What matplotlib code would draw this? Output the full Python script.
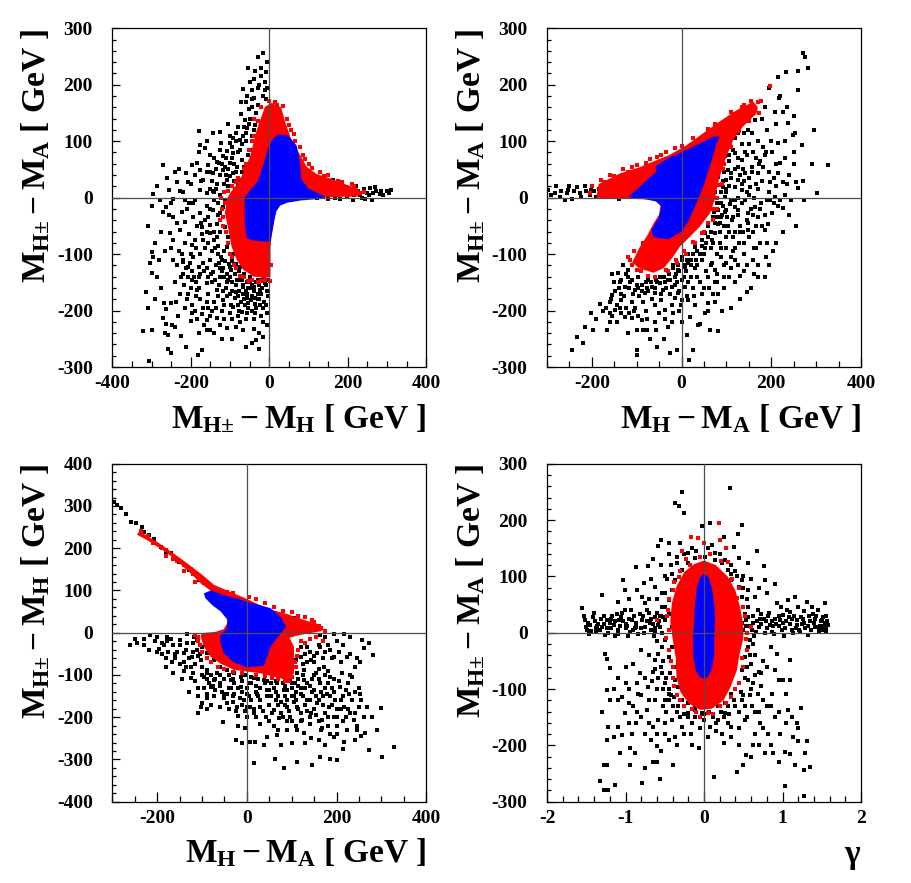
import numpy as np
import matplotlib
matplotlib.use("Agg")
import matplotlib.pyplot as plt
from matplotlib.ticker import MultipleLocator

plt.rcParams['font.family'] = ['Liberation Serif', 'DejaVu Serif']
plt.rcParams['font.weight'] = 'bold'
plt.rcParams['axes.unicode_minus'] = False
plt.rcParams['mathtext.fontset'] = 'custom'
plt.rcParams['mathtext.rm'] = 'Liberation Serif:bold'
plt.rcParams['mathtext.it'] = 'Liberation Serif:bold'
plt.rcParams['mathtext.bf'] = 'Liberation Serif:bold'

# ---------------- panel 1 : (M_H+ - M_H , M_H+ - M_A) ----------------
p1_blue = [(23,112),(48,110),(70,92),(78,62),(82,32),(100,16),(130,6),(142,3),(130,-2),(80,-5),
           (45,-9),(28,-14),(18,-24),(13,-40),(8,-60),(3,-78),(-10,-78),(-40,-76),(-57,-72),
           (-62,-50),(-63,-25),(-63,0),(-50,12),(-30,28),(-15,58),(-3,88),(10,105)]
p1_red = [(6,168),(30,160),(40,135),(55,105),(75,80),(95,55),(120,42),(160,33),(200,22),(230,15),
          (225,2),(150,1),(100,0),(60,-2),(30,-8),(18,-20),(12,-40),(6,-65),(3,-90),(3,-140),
          (-10,-142),(-40,-140),(-66,-128),(-83,-110),(-96,-87),(-104,-57),(-113,-28),(-109,-4),
          (-100,8),(-75,31),(-49,73),(-32,120),(-11,161)]
p1_red_pts = [(20,165),(35,162),(45,140),(12,150),(-5,150),(-20,130),(55,120),(65,100),(85,75),
              (100,60),(130,45),(150,40),(175,30),(210,25),(190,12),(240,10),(170,5),(120,8),
              (-60,60),(-80,35),(-95,20),(-115,10),(-120,-20),(-118,-50),(-100,-100),(-90,-120),
              (-75,-138),(-55,-148),(-30,-150),(-10,-145),(-45,100),(-38,140),(-20,160),(100,30),(60,40),
              (-2,172),(15,170),(28,150),(50,128),(62,112),(78,90),(90,68),(108,52),(140,38),(185,28),
              (215,20),(232,8),(200,5),(135,3),(-28,135),(-40,110),(-52,85),(-65,50),(-85,28),(-105,12),
              (-112,-10),(-117,-35),(-110,-60),(-105,-80),(-95,-105),(-85,-125),(-65,-140),(-45,-145),
              (-20,-148),(2,-148),(5,-120),(-122,0),(-125,-40)]
p1_black = [(-15,256),(-28,249),(-9,223),(-53,229),(-36,225),(-6,194),(-68,192),(-40,177),(-71,170),
            (-52,157),(-72,149),(-61,138),(-36,129),(-57,123),(-179,118),(-177,93),(-165,88),(-143,114),
            (-126,117),(-104,131),(-124,96),(-100,96),(-92,79),(-75,102),(-75,85),
            (-271,57),(-296,7),(-279,-5),(-255,14),(-245,-3),(-236,28),(-228,11),(-211,43),(-207,28),
            (-198,57),(-185,61),(-177,49),(-168,31),(-155,58),(-143,43),(-134,64),(-134,25),(-117,73),
            (-117,49),(-109,31),(-100,61),(-92,43),(-83,55),(-75,31),(-70,67),(-62,43),(-58,20),
            (-177,14),(-160,8),(-143,11),(-126,5),(-113,-4),(-215,-4),(-194,-10),(-262,-16),
            (-300,-96),(-304,-116),(-296,-105),(-298,-134),(-315,-168),(-308,-196),(-323,-236),(-300,-235),
            (-306,-289),(-269,-187),(-264,-198),(-251,-186),(-270,-214),(-264,-224),(-259,-243),(-259,-268),
            (-251,-276),(-249,-226),(-232,-210),(-212,-264),(-200,-218),(-182,-278),(-171,-270),(-160,-235),
            (-151,-235),(-158,-216),(-172,-206),(-132,-214),(-108,-231),(-67,-234),(-39,-233),(-45,-257),
            (-34,-253),(-26,-268),(-15,-246),(-6,-205),(-9,-190),
            (-253,-63),(-245,-75),(-251,-90),(-228,-57),(-223,-99),(-219,-114),(-206,-123),(-198,-84),
            (-195,-105),(-193,-140),(-185,-164),(-180,-122),(-177,-99),(-168,-75),(-160,-152),(-155,-170),
            (-151,-63),(-143,-131),(-139,-90),(-134,-164),(-126,-140),(-121,-110),(-117,-181),(-109,-87),
            (-109,-149),(-100,-122),(-100,-170),(-92,-99),(-92,-193),(-83,-146),(-79,-175),(-75,-122),
            (-70,-202),(-66,-158),(-57,-170),(-53,-187),(-49,-140),(-40,-158),(-36,-178),(-28,-146),
            (-24,-164),(-15,-134),(-11,-152),(-6,-122),
            (-245,-34),(-223,-25),(-215,-43),(-194,-34),(-177,-28),(-172,-52),(-155,-34),(-143,-22),
            (-134,-46),(-126,-28),(-117,-16),(-134,-69),(-113,-52),
            (129,28),(146,20),(163,32),(171,8),(188,20),(205,8),(214,-4),(235,-1),(248,8),(256,17),
            (261,-4),(273,11),(282,6),(299,11),(311,14),(227,11),(197,2),(180,14),(155,11),(138,2),
            (121,-1),(108,14),(167,-1),(218,14),
            (-130,-10),(-125,-60),(-140,-75),(-115,-95),(-105,-70),(-130,-100),(-120,-130),(-100,-140),
            (-85,-155),(-70,-145),(-60,-165),(-45,-175),(-30,-180),(-20,-170),(-5,-165),(-10,-135),
            (-25,-155),(-50,-160),(-65,-180),(-80,-190),(-95,-165),(-110,-160),(-150,-110),(-165,-90),
            (-180,-140),(-200,-160),(-210,-180),(-170,-195),(-140,-185),(-120,-200),(-150,-210),
            (-185,-215),(-160,-60),(-175,-45),(-190,-75),(-235,-120),(-240,-150),(-220,-135),(-200,-100),
            (-110,40),(-95,70),(-85,100),(-60,115),(-125,85),(-150,75),(-160,100),(-180,80),(-200,25),
            (-230,50),(-140,10),(-160,-15),(-25,200),(-15,180),(-45,190),(-30,165),(-8,175),
            (110,25),(130,18),(150,12),(170,25),(195,18),(215,5),(240,15),(265,8),(285,12),(150,-2),(180,-3),
            (-95,5),(-88,15),(-80,22),(-70,45),(-65,55),(-55,75),(-50,85),(-45,110),(-40,120),(-35,150),
            (-50,140),(-65,125),(-85,115),(-90,60),(-105,50),(-115,25),(-125,40),(-135,50),(-110,70),
            (-95,90),(-80,80),(-70,95),(-60,100),(-100,110),(-55,60),(-85,45),(-120,60),(-145,30),
            (-150,45),(-130,-30),(-135,15),(-105,20),(-60,170),(-45,160),(-30,195),(-20,215),(-12,205),
            (-5,240),(-48,205),(-58,180),
            (-128,-115),(-118,-125),(-108,-135),(-97,-128),(-88,-135),(-78,-130),(-68,-155),(-58,-150),
            (-48,-150),(-38,-165),(-28,-170),(-18,-160),(-8,-155),(-3,-145),(-13,-185),(-23,-190),
            (-33,-195),(-43,-200),(-53,-195),(-63,-190),(-73,-185),(-88,-178),(-98,-190),(-108,-175),
            (-118,-165),(-128,-155),(-138,-145),(-148,-135),(-158,-125),(-168,-115),(-178,-160),
            (-188,-175),(-198,-190),(-208,-140),(-218,-155),(-228,-170),(-238,-185),(-190,-200),
            (-160,-185),(-130,-175),(-100,-205),(-80,-210),(-60,-215),(-40,-215),(-20,-210),(-5,-225),
            (-75,-220),(-115,-215),(-145,-200),(-230,-95),(-215,-80),(-205,-65),(-185,-50),(-165,-40),
            (-150,-20),(-190,-5),(-210,-20),(-235,-45),(-255,-30),(-275,-60),(-285,-140),(-280,-110),
            (-275,-160),(-290,-180),(-265,-240),(-240,-230),(-225,-245),(-180,-240),(-140,-240),
            (-120,-250),(-95,-250),(-60,-265),(-25,-240),
            (-260,35),(-240,45),(-220,10),(-205,-10),(-190,40),(-175,30),(-160,45),(-150,15),(-140,-5),
            (-250,-10),(-270,-25),(-285,20),(-300,-15),(-310,-50),(-290,-80),(-265,-95),(-245,-110),
            (-225,-140),
            (100,18),(115,28),(125,10),(140,25),(160,18),(175,12),(185,8),(200,12),(220,20),(230,5),
            (245,-2),(255,5),(270,18),(290,5),(305,8),(95,30),(90,40),(120,35),
            (-122,-105),(-112,-112),(-102,-118),(-94,-112),(-84,-118),(-74,-145),(-64,-135),(-54,-160),
            (-44,-155),(-34,-150),(-24,-145),(-14,-142),(-4,-175),(-16,-195),(-26,-180),(-36,-188),
            (-46,-182),(-56,-178),(-66,-170),(-76,-165),(-86,-168),(-96,-150),(-106,-145),(-116,-140),
            (-126,-125),(-136,-120),(-146,-150),(-156,-140),(-166,-130),(-176,-135),(-186,-150),
            (-196,-145),(-206,-170),(-216,-195),(-196,-205),(-176,-180),(-156,-195),(-136,-195),
            (-116,-190),(-96,-215),(-76,-200),(-56,-205),(-36,-205),(-16,-220),(-86,-230),(-126,-225),
            (-166,-225),(-141,-60),(-151,-48),(-131,-85),(-146,-95),(-156,-80),(-171,-65),(-186,-90),
            (-201,-115),(-211,-125),(-221,-110),(-196,-130),(-90,30),(-100,38),(-112,55),(-128,62),
            (-140,70),(-108,82),(-92,105),(-80,125),(-66,110),(-52,130),(-45,175),(-38,210),(-22,230),
            (-12,190)]

# ---------------- panel 2 : (M_H - M_A , M_H+ - M_A) ----------------
p2_blue = [(-59,55),(-30,70),(-4,79),(33,93),(71,108),(85,108),(78,96),(63,55),(48,19),(33,-10),
           (15,-42),(0,-60),(-30,-74),(-63,-70),(-67,-57),(-52,-37),(-45,-16),(-56,-7),(-78,-3),
           (-108,-1),(-119,2),(-100,14),(-78,31),(-56,46)]
p2_red = [(-190,0),(-185,24),(-137,43),(-93,54),(-63,64),(-26,76),(11,93),(48,114),(85,135),(123,155),
          (160,170),(170,160),(167,149),(137,126),(115,102),(100,73),(85,37),(78,14),(74,-4),(63,-28),
          (41,-51),(19,-69),(-4,-87),(-19,-105),(-40,-125),(-63,-133),(-95,-125),(-110,-115),(-95,-90),
          (-75,-65),(-62,-45),(-50,-30),(-47,-14),(-58,-6),(-80,-3),(-120,-2),(-160,-1)]
p2_red_pts = [(197,197),(178,172),(170,170),(150,160),(140,165),(120,148),(100,130),(-200,20),(-170,28),
              (-150,38),(-120,45),(-100,58),(-70,68),(-45,75),(-15,88),(95,110),(110,90),(95,60),(90,25),
              (80,-20),(70,-40),(50,-60),(30,-80),(10,-100),(-10,-115),(-30,-130),(-60,-140),(-90,-130),
              (-110,-120),(-120,-105),
              (-205,8),(-180,32),(-160,40),(-130,50),(-110,55),(-80,62),(-55,72),(-35,80),(0,92),(25,105),
              (60,122),(75,130),(110,152),(135,160),(155,172),(172,150),(150,135),(128,118),(108,95),
              (98,80),(92,50),(84,22),(78,0),(70,-20),(58,-45),(45,-62),(25,-78),(5,-95),(-12,-110),
              (-35,-128),(-75,-138),(-100,-128),(-115,-110),(-105,-95),(-85,-80)]
p2_black = [(-297,14),(-282,9),(-260,-4),(-245,-3),(-234,19),(-227,8),(-212,11),(-201,14),(-190,1),
            (-178,2),(-167,19),(-156,11),(-149,2),(-134,19),(-130,8),(-268,11),(-253,14),
            (271,256),(275,249),(282,229),(260,224),(233,223),(215,213),(260,191),(217,176),(195,194),
            (186,161),(208,152),(227,152),(238,132),(253,115),(248,111),(295,119),(268,93),(327,58),
            (301,8),(273,-4),(245,-4),(256,28),(260,17),(227,28),(215,43),(219,61),(201,81),(189,81),
            (215,96),(182,90),(156,114),(149,120),(163,138),(167,70),(182,55),(197,28),(208,2),(197,-4),
            (227,-19),(201,-28),(178,-10),(163,-16),(171,-34),(149,-28),(126,-22),(141,-4),(134,14),
            (152,19),(126,31),(111,43),(141,43),(156,55),(134,67),(119,79),(141,81),(171,43),
            (204,-94),(189,-105),(162,-90),(161,-135),(146,-168),(130,-138),(119,-110),(111,-105),
            (130,-60),(149,-57),(167,-51),(186,-57),(193,-46),(89,-105),(67,-116),(59,-140),(74,-128),
            (82,-170),(110,-196),(74,-184),(59,-187),(52,-205),(41,-223),(37,-226),(63,-234),(82,-236),
            (19,-211),(11,-243),(17,-288),(-11,-269),(-54,-264),(-26,-275),(-100,-270),(-100,-279),
            (-245,-270),(-233,-247),(-219,-258),(-202,-205),(-197,-234),(-167,-234),(-181,-188),
            (-160,-184),(-156,-172),(-149,-199),(-145,-220),(-134,-205),(-134,-181),(-126,-211),
            (-111,-214),(-104,-196),(-100,-234),(-89,-217),(-85,-234),(-78,-234),(-59,-220),(-59,-190),
            (-45,-181),(-37,-199),(-22,-220),(-22,-190),(-15,-178),(-7,-169),(0,-181),(7,-158),(15,-181),
            (-141,-134),(-134,-146),(-126,-158),(-119,-128),(-111,-146),(-104,-164),(-97,-140),(-89,-155),
            (-82,-169),(-74,-146),(-67,-158),(-59,-169),(-48,-152),(-41,-164),(-30,-146),(-22,-158),
            (-15,-140),(-7,-128),(0,-110),(7,-122),(15,-99),(22,-110),(30,-87),(41,-99),(45,-75),(52,-63),
            (59,-51),(67,-75),(71,-34),(74,-63),(82,-46),(82,-22),(89,-10),(89,-34),(97,2),(100,-22),
            (104,-51),(111,-4),(115,-34),(119,-16),(59,25),(74,19),(82,37),(89,55),(97,73),(104,49),
            (111,90),(67,8),(93,19),(119,19),(100,31),
            (60,0),(70,30),(95,45),(105,65),(125,55),(140,30),(150,5),(160,-30),(130,-50),(115,-70),
            (100,-90),(85,-80),(65,-90),(45,-110),(30,-125),(20,-140),(0,-145),(-15,-155),(-35,-160),
            (-55,-150),(-75,-165),(-95,-175),(-115,-150),(-125,-135),(-135,-170),(-145,-190),(-160,-205),
            (-110,-185),(-80,-200),(-50,-205),(-5,-200),(25,-160),(40,-150),(55,-130),(75,-150),(95,-120),
            (105,-140),(120,-90),(140,-80),(160,-60),(175,-80),(185,-30),(205,-10),(230,5),(240,40),
            (250,60),(170,100),(190,120),(210,130),(230,100),(120,105),(135,95),(-50,-120),(-20,-125),(10,-130),
            (-280,20),(-270,2),(-255,8),(-240,12),(-225,2),(-215,20),(-205,5),(-195,12),(-185,15),
            (-175,10),(-165,5),(-155,22),(-145,12),(-140,-2),(-125,12),(-115,8),(-290,5),(-250,20),
            (75,10),(80,-10),(90,-30),(95,-50),(85,-60),(75,-45),(65,-60),(55,-80),(45,-85),(35,-95),
            (25,-100),(15,-115),(5,-120),(-5,-130),(-12,-135),(100,10),(108,-12),(112,-40),(118,-60),
            (125,-30),(135,-10),(145,-40),(105,20),(110,35),(120,50),(130,40),(90,85),(100,95),(110,115),
            (125,115),(140,115),(150,95),(145,75),(160,80),(175,65),(165,25),(180,30),(195,45),(210,20),
            (220,-5),(235,25),(150,-70),(165,-90),(140,-100),(125,-120),(110,-125),(95,-140),(80,-135),
            (65,-120),(50,-100),(35,-120),(15,-150),(-5,-165),(-25,-170),(-45,-170),(-65,-180),
            (-85,-185),(-105,-200),(-125,-195),(-140,-160),(-150,-150),(-155,-135),(-130,-120),
            (-120,-140),(-100,-155),(-80,-150),(-60,-160),(-40,-140),(-25,-145),(-10,-150),(5,-140),
            (35,-140),(50,-160),(70,-170),(95,-160),(120,-150),(140,-130),(170,-120),(185,-140),
            (60,-200),(30,-190),(0,-220),(-30,-230),(-70,-250),(-120,-240),(-160,-220),(-190,-215),
            (-215,-230),(-175,-200),(-155,-210),(-40,-250),(25,-270),(90,-200),(130,-180),(155,-160),
            (195,-120),(210,-80),(225,-60),(240,-30),(255,-50),(175,-20),(190,-5),(210,60),(230,70),
            (250,80),(270,30),(290,60),(200,100),(180,140),(235,160),(250,145),(220,180),
            (62,-15),(68,-5),(72,-25),(78,-35),(86,-45),(92,-15),(96,-25),(102,-35),(106,-60),(98,-70),
            (88,-90),(78,-100),(70,-80),(60,-70),(52,-90),(42,-100),(32,-110),(22,-120),(12,-110),
            (2,-105),(-8,-120),(-18,-120),(-28,-135),(-38,-150),(-48,-140),(-58,-145),(-68,-150),
            (-78,-160),(-88,-165),(-98,-160),(-108,-170),(-118,-160),(-128,-175),(-138,-150),
            (-148,-165),(-158,-180),(-168,-195),(-138,-195),(-118,-205),(-98,-210),(-78,-215),
            (-58,-235),(-38,-215),(-18,-205),(-2,-190),(12,-175),(28,-175),(45,-170),(62,-160),(80,-150),
            (98,-115),(115,-95),(128,-80),(138,-60),(148,-45),(155,-20),(162,0),(170,15),(150,35),
            (138,50),(125,70),(115,85),(105,75),(92,30),(98,15),(88,10),(125,0),(118,-5),(135,25),
            (145,10),(158,45),(172,60),(185,75),(195,10),(205,35),(215,-15),(180,-50),(190,-80),
            (160,-110),(145,-120),(170,-140)]

# ---------------- panel 3 : (M_H - M_A , M_H+ - M_H) ----------------
p3_blue = [(-96,93),(-80,100),(-51,89),(-22,81),(0,73),(30,65),(53,58),(75,38),(88,14),(70,-9),
           (53,-33),(45,-57),(38,-78),(0,-82),(-30,-70),(-52,-48),(-60,-17),(-58,-3),(-45,8),
           (-43,30),(-58,50),(-77,65),(-92,81)]
p3_red = [(-240,240),(-200,215),(-148,176),(-103,140),(-73,113),(-29,93),(0,80),(45,57),(90,44),
          (134,28),(160,20),(168,4),(120,-5),(95,-12),(105,-33),(105,-96),(90,-112),(60,-104),(30,-96),
          (0,-92),(-29,-88),(-59,-73),(-81,-57),(-96,-33),(-103,-9),(-100,-1),(-70,2),(-52,8),(-44,22),
          (-44,50),(-55,69),(-73,93),(-103,117),(-133,148),(-177,188),(-222,219),(-245,232)]
p3_red_pts = [(-235,240),(-210,212),(-190,200),(-165,175),(-140,160),(-120,140),(-90,118),(-60,100),
              (-30,95),(20,80),(60,60),(100,48),(130,36),(150,25),(160,15),(175,5),(140,-15),(170,-20),
              (115,-40),(110,-80),(100,-105),(95,-115),(70,-110),(40,-102),(-10,-95),(-50,-85),(-80,-70),
              (-100,-45),(-110,-20),(-115,-5),(120,-20),
              (-220,228),(-180,195),(-155,170),(-125,150),(-105,132),(-80,110),(-45,96),(5,85),(40,70),
              (80,52),(115,40),(145,30),(165,10),(155,-10),(130,-25),(112,-55),(108,-70),(85,-115),
              (55,-108),(20,-100),(-30,-92),(-65,-80),(-90,-60),(-105,-30),(-108,-10),(-180,182),
              (-140,145),(-115,120)]
p3_black = [(-296,310),(-289,302),(-281,294),(-270,281),(-259,263),(-248,259),(-233,249),(-229,239),
            (-218,231),(-207,221),(-192,204),(-181,192),(-170,188),(-163,180),(-151,168),(-140,160),
            (-129,148),(-118,140),(-107,125),(-96,117),
            (108,34),(97,26),(142,14),(164,-6),(175,-9),(194,-2),(216,-2),(231,-9),(257,-17),(272,-25),
            (260,-37),(281,-53),(253,-69),(235,-104),(249,-132),(253,-144),(268,-175),(298,-179),
            (264,-238),(272,-278),(301,-295),(327,-270),(242,-254),(246,-230),(223,-230),(216,-258),
            (194,-246),(201,-301),(186,-298),(162,-294),(146,-313),(112,-305),(82,-321),(62,-300),
            (16,-308),(19,-258),(8,-258),(-10,-260),(-25,-254),(38,-266),(45,-246),(68,-242),(75,-266),
            (90,-230),(112,-230),(127,-238),(142,-250),(160,-254),(168,-226),
            (-244,-24),(-229,-16),(-218,-41),(-200,-9),(-196,-39),(-177,-9),(-166,-69),(-148,-17),
            (-140,-49),(-133,-25),(-125,-108),(-122,-57),(-111,-41),(-103,-65),(-103,-175),(-99,-167),
            (-96,-104),(-88,-88),(-81,-128),(-73,-151),(-66,-96),(-59,-120),(-53,-211),(-51,-144),
            (-44,-167),(-36,-112),(-29,-144),(-22,-175),(-20,-197),(-14,-128),(-7,-159),(1,-144),
            (8,-175),(16,-191),(23,-144),(30,-175),(42,-199),(53,-151),(60,-183),(71,-203),(75,-163),
            (82,-136),(90,-175),(97,-199),(105,-151),(108,-120),(112,-175),(120,-144),(123,-207),
            (127,-112),(134,-159),(142,-191),(149,-136),(153,-96),(157,-167),(164,-120),(168,-207),
            (171,-80),(179,-144),(183,-175),(186,-104),(194,-57),(197,-159),(201,-199),(208,-128),
            (212,-96),(216,-175),(223,-57),(227,-144),(231,-191),(238,-207),(246,-222),(249,-175),
            (157,-49),(142,-65),(134,-33),(164,-33),(120,-57),(127,-88),(112,-96),(97,-112),(82,-104),
            (68,-120),(53,-120),(38,-112),(16,-108),(4,-120),(-14,-104),(-29,-96),(-44,-88),(-59,-80),
            (-73,-65),(-88,-49),(-99,-33),(-111,-17),(-118,-9),(-133,-2),(-73,-112),(-88,-144),
            (-29,-120),(-44,-144),(1,-175),
            (-150,-30),(-160,-50),(-135,-80),(-115,-75),(-110,-130),(-90,-110),(-60,-100),(-40,-130),
            (-10,-115),(20,-125),(45,-135),(65,-140),(85,-150),(100,-130),(130,-130),(145,-110),
            (160,-85),(180,-120),(195,-140),(210,-160),(225,-120),(120,-190),(100,-210),(60,-220),
            (30,-215),(0,-200),(-30,-165),(-70,-135),(140,-215),(180,-200),(200,-220),(215,-210),
            (-205,-20),(-185,-30),(-170,-15),(-120,-95),(185,-40),(205,-45),(240,-80),(135,-70),
            (-190,-25),(-175,-45),(-160,-60),(-150,-75),(-140,-90),(-130,-60),(-120,-45),(-110,-55),
            (-100,-80),(-90,-95),(-80,-100),(-70,-110),(-60,-125),(-50,-110),(-40,-100),(-30,-110),
            (-20,-130),(-10,-140),(0,-130),(10,-120),(20,-140),(30,-130),(40,-120),(50,-135),(60,-130),
            (70,-150),(80,-120),(90,-135),(100,-150),(110,-140),(115,-110),(125,-100),(135,-120),
            (145,-140),(155,-150),(165,-140),(175,-130),(185,-150),(190,-170),(200,-180),(170,-170),
            (150,-180),(130,-170),(110,-160),(90,-160),(70,-170),(50,-170),(30,-160),(10,-160),
            (-10,-170),(-30,-150),(-50,-155),(-60,-175),(-80,-170),(-90,-155),(-110,-150),(-95,-130),
            (140,-200),(160,-210),(180,-220),(200,-240),(220,-200),(240,-190),(260,-200),(255,-160),
            (235,-160),(215,-150),(195,-110),(180,-90),(170,-60),(150,-70),(130,-50),(180,-30),
            (200,-20),(215,-30),(230,-50),(245,-60),(110,-220),(90,-210),(70,-230),(50,-210),(20,-200),
            (-5,-225),(-20,-220),(130,-260),(100,-260),(175,-265),(215,-275),(255,-245),(280,-200),
            (290,-230),(-180,-60),(-200,-45),(-215,-5),(-230,-30),(-250,-15),(-260,-30),(-180,-80),
            (-165,-95),(-145,-110),(-130,-140),(-110,-190),(-90,-180),
            (-5,-100),(10,-105),(25,-110),(45,-115),(65,-115),(85,-125),(100,-120),(115,-125),
            (120,-130),(140,-125),(150,-100),(160,-110),(175,-100),(170,-150),(160,-160),(140,-160),
            (125,-150),(105,-165),(85,-170),(65,-160),(45,-150),(25,-150),(5,-150),(-15,-155),
            (-35,-130),(-55,-140),(-75,-125),(-85,-120),(-100,-100),(-115,-115),(-125,-80),(-140,-70),
            (-155,-45),(-165,-30),(-178,-20),(-190,-50),(-135,-40),(-120,-25),(-105,-50),(190,-130),
            (205,-115),(220,-135),(210,-180),(195,-200),(175,-190),(155,-195),(135,-185),(115,-180),
            (95,-185),(75,-190),(55,-190),(35,-185),(15,-180),(-5,-185),(-25,-185),(-40,-180),
            (120,-210),(80,-200),(165,-230),(185,-240),(225,-180),(240,-140),(230,-100),(210,-70),
            (190,-60),(160,-30),(175,-45),(150,-55),(140,-45),(120,-35),(110,-65),(125,-75)]

# ---------------- panel 4 : (gamma , M_H+ - M_A) ----------------
p4_blue = [(0,105),(0.06,98),(0.10,80),(0.13,50),(0.14,20),(0.13,-10),(0.13,-40),(0.10,-65),
           (0.05,-78),(0,-82),(-0.06,-78),(-0.11,-65),(-0.135,-40),(-0.14,-10),(-0.125,20),
           (-0.115,50),(-0.09,80),(-0.05,98)]
p4_red = [(0,128),(0.15,120),(0.30,100),(0.40,75),(0.46,45),(0.50,15),(0.50,-10),(0.45,-40),
          (0.42,-66),(0.34,-96),(0.25,-120),(0.10,-135),(-0.05,-137),(-0.20,-125),(-0.30,-105),
          (-0.35,-80),(-0.36,-45),(-0.40,-10),(-0.43,20),(-0.41,52),(-0.35,82),(-0.25,108),(-0.12,122)]
p4_red_pts = [(0.19,195),(-0.08,168),(-0.17,170),(0.20,165),(-0.28,145),(0.0,160),(0.28,150),
              (-0.23,130),(0.30,125),(0.45,80),(0.52,30),(0.55,0),(0.55,-30),(0.50,-60),(0.45,-90),
              (0.35,-115),(0.20,-130),(-0.10,-140),(-0.25,-130),(-0.35,-110),(-0.40,-80),(-0.42,-50),
              (-0.48,-10),(-0.47,30),(-0.45,60),(-0.38,90),(-0.30,110),(-0.60,22),(0.60,10),
              (0.08,140),(-0.05,135),(0.22,128),(0.36,95),(0.42,62),(0.50,45),(0.53,-12),(0.48,-45),
              (0.40,-100),(0.28,-125),(0.05,-142),(-0.15,-135),(-0.30,-120),(-0.38,-95),(-0.40,-60),
              (-0.45,-30),(-0.45,5),(-0.46,40),(-0.40,75),(-0.32,98),(-0.18,120),(0.12,-145),(-0.05,-150)]
p4_black = [(-1.56,43),(-1.52,22),(-1.49,5),(-1.45,14),(-1.39,20),(-1.37,2),(-1.30,11),(-1.24,22),
            (-1.22,-1),(-1.15,14),(-1.11,34),(-1.09,5),(-1.03,20),(-1.01,40),(-0.94,2),(-0.92,22),
            (-0.86,11),(-0.82,34),(-0.77,-1),(-0.73,20),(-0.67,5),(-0.62,28),(-0.58,14),(-0.54,-1),
            (-0.50,22),(-0.45,34),(-0.41,11),
            (-1.50,10),(-1.42,28),(-1.33,5),(-1.27,30),(-1.19,8),(-1.13,-5),(-1.06,28),(-0.98,12),
            (-0.89,30),(-0.80,8),(-0.70,35),(-0.65,15),(-1.46,-3),(-1.35,15),(-1.20,18),(-0.97,-6),
            (0.48,17),(0.56,28),(0.61,5),(0.67,20),(0.73,34),(0.78,-1),(0.84,14),(0.90,25),(0.93,52),
            (0.99,5),(1.05,20),(1.10,37),(1.14,-1),(1.18,14),(1.24,28),(1.29,8),(1.31,55),(1.35,20),
            (1.39,34),(1.44,11),(1.46,2),(1.50,22),(1.54,17),(1.56,8),(1.54,52),(1.16,64),(1.07,58),
            (0.70,10),(0.81,30),(0.95,12),(1.02,-5),(1.12,25),(1.21,5),(1.27,18),(1.33,-4),(1.42,25),
            (1.48,12),(1.52,5),(1.58,14),(0.87,2),(1.00,32),(0.64,-6),
            (-0.28,249),(-0.37,231),(-0.32,225),(-0.25,213),(0.33,256),(-0.03,189),(0.08,195),(0.49,192),
            (0.43,176),(-0.55,164),(-0.59,154),(-0.45,159),(0.67,145),(0.38,153),(0.44,132),(0.56,123),
            (0.76,118),(0.78,93),(0.90,86),(-0.86,117),(-0.71,118),(-0.67,96),(-0.77,88),(-1.03,93),
            (-1.01,76),(-1.30,67),(-0.62,82),(-0.54,70),(-0.41,105),(-0.35,123),(-0.20,141),(0.14,141),
            (0.27,129),(0.35,105),(0.48,93),(0.56,76),(0.65,64),(0.39,58),(-0.54,46),(-0.75,52),(-0.79,64),
            (-1.32,-264),(-1.27,-279),(-1.22,-279),(-1.13,-270),(-1.28,-235),(-1.24,-235),(-1.24,-191),
            (-1.22,-167),(-1.20,-120),(-1.24,-102),(-1.26,-37),(-1.24,-46),(-1.20,-63),(-1.15,-185),
            (-1.09,-167),(-1.07,-214),(-1.05,-182),(-1.01,-143),(-1.00,-90),(-0.96,-125),(-0.94,-205),
            (-0.94,-235),(-0.92,-179),(-0.88,-214),(-0.86,-161),(-0.84,-108),(-0.82,-72),(-0.79,-267),
            (-0.75,-179),(-0.73,-137),(-0.71,-96),(-0.67,-191),(-0.65,-167),(-0.62,-120),(-0.60,-202),
            (-0.58,-155),(-0.56,-259),(-0.54,-72),(-0.52,-131),(-0.50,-179),(-0.45,-108),(-0.41,-155),
            (-0.39,-235),(-0.37,-84),(-0.37,-185),(-0.33,-131),(-0.28,-167),(-0.24,-108),(-0.20,-143),
            (-0.16,-179),(-0.11,-131),(-0.07,-205),(-0.03,-143),(0.06,-131),(0.08,-167),(0.13,-257),
            (0.18,-155),(0.23,-179),(0.27,-143),(0.31,-131),(0.35,-167),(0.42,-247),(0.44,-199),
            (0.48,-120),(0.52,-155),(0.54,-217),(0.56,-84),(0.61,-131),(0.63,-199),(0.65,-179),
            (0.69,-108),(0.71,-161),(0.73,-72),(0.78,-214),(0.80,-131),(0.82,-179),(0.86,-108),
            (0.88,-214),(0.90,-149),(0.93,-37),(0.95,-84),(0.97,-179),(1.03,-211),(1.03,-273),
            (1.05,-108),(1.07,-137),(1.09,-49),(1.14,-185),(1.16,-235),(1.18,-161),(1.20,-193),
            (1.24,-134),(1.27,-244),(1.29,-214),(1.31,-193),(1.35,-238),(1.27,-290),(1.10,-84),
            (1.01,-84),(0.90,-66),
            (-0.54,-25),(-0.50,-13),(-0.58,-37),(-0.62,-49),(-0.45,-43),(-0.37,-60),(-0.41,-25),
            (-0.43,-72),(-0.33,-96),(-0.28,-120),(-0.20,-125),(-0.11,-137),(-0.03,-131),(0.06,-140),
            (0.18,-131),(0.27,-125),(0.35,-108),(0.44,-90),(0.48,-66),(0.52,-43),(0.56,-25),(0.59,-13),
            (0.52,34),(0.56,46),(0.48,64),(0.44,82),(0.35,93),(0.31,111),(0.23,123),(0.14,129),
            (0.01,135),(-0.11,132),(-0.20,123),(-0.28,111),(-0.37,93),(-0.41,76),(-0.45,58),(-0.50,46),
            (-0.52,28),(-0.56,11),(-0.62,2),
            (-0.70,-40),(-0.80,-30),(-0.90,-55),(-0.66,-85),(-0.48,-140),(-0.30,-150),(-0.15,-160),
            (0.00,-155),(0.12,-150),(0.30,-160),(0.45,-140),(0.60,-100),(0.65,-40),(0.75,-50),
            (0.85,-25),(0.70,-140),(-0.85,-140),(-0.95,-160),(-1.10,-120),(-0.60,-230),
            (-1.53,30),(-1.48,18),(-1.44,3),(-1.40,35),(-1.36,12),(-1.31,25),(-1.26,-4),(-1.23,8),
            (-1.17,30),(-1.14,20),(-1.10,-2),(-1.07,12),(-1.04,35),(-1.00,8),(-0.96,25),(-0.93,40),
            (-0.90,5),(-0.87,18),(-0.84,-3),(-0.79,22),(-0.75,10),(-0.72,40),(-0.68,25),(-0.64,-5),
            (-0.60,35),(-0.57,20),
            (0.50,5),(0.53,22),(0.58,12),(0.62,30),(0.66,2),(0.69,40),(0.72,15),(0.76,25),(0.80,8),
            (0.83,35),(0.86,20),(0.89,-3),(0.92,15),(0.96,30),(1.00,18),(1.03,8),(1.06,40),(1.09,15),
            (1.12,5),(1.15,30),(1.19,22),(1.22,2),(1.25,15),(1.28,38),(1.32,12),(1.36,5),(1.40,18),
            (1.43,30),(1.47,8),(1.51,28),(1.55,2),(1.57,20),(1.45,40),(1.37,45),(1.20,45),(0.98,45),
            (-0.55,-60),(-0.65,-70),(-0.75,-80),(-0.85,-90),(-0.95,-100),(-1.05,-115),(-0.90,-130),
            (-0.80,-150),(-0.70,-160),(-0.60,-180),(-0.50,-160),(-0.40,-130),(-0.45,-190),(-0.55,-210),
            (-0.65,-230),(-0.75,-240),(-0.35,-200),(-0.25,-180),(-0.15,-200),(-0.05,-170),(0.05,-185),
            (0.15,-175),(0.25,-195),(0.35,-185),(0.45,-170),(0.55,-150),(0.65,-140),(0.75,-120),
            (0.85,-130),(0.95,-140),(1.05,-160),(1.12,-150),(0.75,-170),(0.70,-200),(0.60,-220),
            (0.50,-235),(0.85,-200),(0.95,-230),(1.10,-215),(1.20,-170),(0.40,-100),(0.50,-110),
            (0.62,-90),(0.72,-95),(0.80,-60),(0.70,-70),(0.60,-55),(-0.50,-90),(-0.60,-100),
            (-0.70,-120),(-0.80,-110),(-0.50,-120),(-0.42,-110),(-0.30,-120),(0.40,-130),(0.25,-150),
            (-0.20,-150),(-1.00,-60),(-1.10,-80),(-1.15,-100),(-1.30,-140),
            (-0.50,100),(-0.55,120),(-0.65,130),(-0.45,140),(-0.30,160),(-0.15,150),(0.10,155),
            (0.25,170),(0.40,110),(0.50,100),(0.60,95),(0.70,80),(0.80,70),(-0.70,60),(-0.85,75),
            (-0.95,60),(-1.10,55),(-0.60,60),
            (-1.38,8),(-1.28,15),(-1.18,25),(-1.08,22),(-0.99,15),(-0.88,8),(-0.78,30),(-0.69,18),
            (-0.63,8),(-0.56,30),(0.54,12),(0.63,18),(0.71,25),(0.79,20),(0.88,12),(0.97,22),(1.08,28),
            (1.17,8),(1.26,25),(1.34,30),(1.41,10),(1.49,20),(1.53,12),(1.56,30),
            (-0.52,-50),(-0.48,-80),(-0.44,-100),(-0.38,-115),(-0.35,-140),(-0.25,-145),(-0.12,-150),
            (0.0,-145),(0.15,-160),(0.22,-140),(0.32,-145),(0.38,-120),(0.47,-105),(0.52,-80),
            (0.55,-60),(0.58,-40),(0.62,-20),(0.55,60),(0.50,80),(0.42,100),(0.35,120),(0.20,140),
            (0.05,150),(-0.10,145),(-0.25,140),(-0.35,135),(-0.42,120),(-0.47,95),(-0.50,70),
            (-0.55,30),(-0.60,-15),(-0.62,-65),(-0.58,-80),(-0.52,-100),(-0.45,-120),(0.65,-75),
            (0.58,-110),(0.52,-130)]

panels = [
    dict(black=p1_black, red=p1_red, red_pts=p1_red_pts, blue=p1_blue,
         xlim=(-400, 400), ylim=(-300, 300), xmaj=200, xmin=50, ymaj=100, ymin=20,
         xlabel=r'$M_{H±} - M_H$ [ GeV ]', ylabel=r'$M_{H±} - M_A$ [ GeV ]'),
    dict(black=p2_black, red=p2_red, red_pts=p2_red_pts, blue=p2_blue,
         xlim=(-300, 400), ylim=(-300, 300), xmaj=200, xmin=50, ymaj=100, ymin=20,
         xlabel=r'$M_H - M_A$ [ GeV ]', ylabel=r'$M_{H±} - M_A$ [ GeV ]'),
    dict(black=p3_black, red=p3_red, red_pts=p3_red_pts, blue=p3_blue,
         xlim=(-300, 400), ylim=(-400, 400), xmaj=200, xmin=50, ymaj=100, ymin=20,
         xlabel=r'$M_H - M_A$ [ GeV ]', ylabel=r'$M_{H±} - M_H$ [ GeV ]'),
    dict(black=p4_black, red=p4_red, red_pts=p4_red_pts, blue=p4_blue,
         xlim=(-2, 2), ylim=(-300, 300), xmaj=1, xmin=0.2, ymaj=100, ymin=20,
         xlabel=r'$\gamma$', ylabel=r'$M_{H±} - M_A$ [ GeV ]'),
]

W, H = 911, 883
fig = plt.figure(figsize=(W / 100, H / 100), dpi=100)
boxes = [(112.3, 28.3, 426.3, 367.0), (547.0, 28.3, 861.0, 367.0),
         (112.3, 463.7, 426.3, 801.7), (547.0, 463.7, 861.0, 801.7)]

ms = 2.5
for p, (l, t, r, b) in zip(panels, boxes):
    ax = fig.add_axes([l / W, 1 - b / H, (r - l) / W, (b - t) / H])
    bk = np.array(p['black'], dtype=float)
    rd = np.array(p['red'], dtype=float)
    rp = np.array(p['red_pts'], dtype=float)
    bl = np.array(p['blue'], dtype=float)
    ax.plot(bk[:, 0], bk[:, 1], 's', color='black', ms=ms, mew=0, zorder=2)
    ax.fill(rd[:, 0], rd[:, 1], color='#ff0000', lw=0, zorder=3)
    ax.plot(rp[:, 0], rp[:, 1], 's', color='#ff0000', ms=ms + 0.3, mew=0, zorder=3)
    ax.fill(bl[:, 0], bl[:, 1], color='#0000ff', lw=0, zorder=4)
    ax.axhline(0, color='0.3', lw=0.9, zorder=5)
    ax.axvline(0, color='0.3', lw=0.9, zorder=5)
    ax.set_xlim(*p['xlim'])
    ax.set_ylim(*p['ylim'])
    ax.xaxis.set_major_locator(MultipleLocator(p['xmaj']))
    ax.xaxis.set_minor_locator(MultipleLocator(p['xmin']))
    ax.yaxis.set_major_locator(MultipleLocator(p['ymaj']))
    ax.yaxis.set_minor_locator(MultipleLocator(p['ymin']))
    ax.tick_params(which='both', direction='in', top=False, right=False, width=0.9)
    ax.tick_params(axis='x', which='major', length=7, pad=6, labelsize=14)
    ax.tick_params(axis='x', which='minor', length=4.5)
    ax.tick_params(axis='y', which='major', length=6, pad=14, labelsize=14)
    ax.tick_params(axis='y', which='minor', length=3)
    for lab in ax.get_xticklabels() + ax.get_yticklabels():
        lab.set_fontweight('bold')
    for s in ax.spines.values():
        s.set_linewidth(0.9)
    ax.set_facecolor('white')
    ax.text(1.0, -0.18, p['xlabel'], transform=ax.transAxes, ha='right', va='baseline',
            fontsize=24, fontweight='bold')
    ax.text(-0.213, 1.0, p['ylabel'], transform=ax.transAxes, ha='right', va='baseline',
            rotation=90, rotation_mode='anchor', fontsize=24, fontweight='bold')

fig.savefig('out.png', dpi=100, facecolor='white')
